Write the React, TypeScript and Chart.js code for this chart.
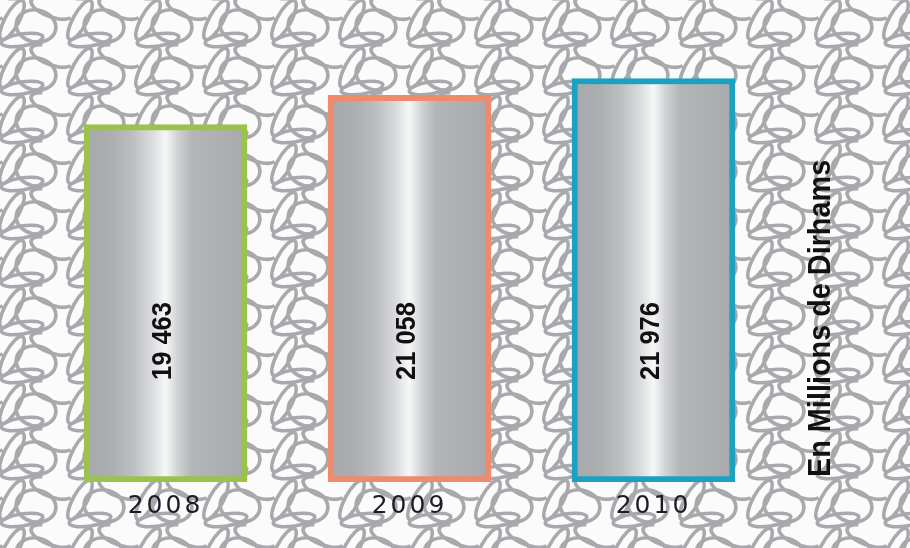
import React, { useEffect, useRef } from "react";
import { Chart, registerables } from "chart.js";

Chart.register(...registerables);

const categories = ["2008", "2009", "2010"];
const values = [19463, 21058, 21976];
const valueLabels = ["19 463", "21 058", "21 976"];
const borderColors = ["#9bc24a", "#ef8a6c", "#1ba2c3"];
const unitLabel = "En Millions de Dirhams";
const yMax = 26250;

const BAR_W = 163;

function metalGradient(ctx: CanvasRenderingContext2D, cx: number) {
  const g = ctx.createLinearGradient(cx - BAR_W / 2, 0, cx + BAR_W / 2, 0);
  g.addColorStop(0, "#a7a8ac");
  g.addColorStop(0.16, "#acadb1");
  g.addColorStop(0.3, "#bdbec1");
  g.addColorStop(0.42, "#dbdcde");
  g.addColorStop(0.5, "#f6f7f7");
  g.addColorStop(0.57, "#d3d4d6");
  g.addColorStop(0.66, "#b4b5b9");
  g.addColorStop(1, "#a8a9ad");
  return g;
}

const decoPlugin = {
  id: "deco",
  beforeDraw(chart: any) {
    const { ctx, width, height } = chart;
    ctx.save();
    ctx.fillStyle = "#fbfbfb";
    ctx.fillRect(0, 0, width, height);
    ctx.strokeStyle = "#a8a9ac";
    ctx.lineWidth = 3.6;
    const tw = 68;
    const th = 48;
    for (let ty = -th; ty < height + th; ty += th) {
      for (let tx = -tw; tx < width + tw; tx += tw) {
        ctx.beginPath();
        ctx.ellipse(tx + 36, ty + 26, 20, 16, 0.2, 0, Math.PI * 2);
        ctx.stroke();
        ctx.beginPath();
        ctx.ellipse(tx + 12, ty + 20, 7, 22, 0.5, 0, Math.PI * 2);
        ctx.stroke();
        ctx.beginPath();
        ctx.ellipse(tx + 22, ty + 40, 21, 6, -0.15, 0, Math.PI * 2);
        ctx.stroke();
        ctx.beginPath();
        ctx.ellipse(tx + 52, ty + 8, 22, 9, 0.35, Math.PI * 0.1, Math.PI * 1.3);
        ctx.stroke();
      }
    }
    ctx.restore();
    ctx.letterSpacing = "3px";
  },
  beforeDatasetsDraw(chart: any) {
    chart.ctx.letterSpacing = "0px";
  },
  afterDatasetsDraw(chart: any) {
    const { ctx, chartArea } = chart;
    const meta = chart.getDatasetMeta(0);
    ctx.save();
    ctx.fillStyle = "#111111";
    ctx.font = 'bold 28px "Liberation Sans", Arial, sans-serif';
    ctx.textAlign = "center";
    ctx.textBaseline = "middle";
    meta.data.forEach((bar: any, i: number) => {
      ctx.save();
      ctx.translate(bar.x - 2, chartArea.bottom - 141);
      ctx.rotate(-Math.PI / 2);
      ctx.scale(0.91, 1);
      ctx.fillText(valueLabels[i], 0, 0);
      ctx.restore();
    });
    ctx.font = 'bold 31px "Liberation Sans", Arial, sans-serif';
    ctx.textAlign = "left";
    ctx.save();
    ctx.translate(chartArea.right + 46, chartArea.bottom - 5);
    ctx.rotate(-Math.PI / 2);
    ctx.scale(0.93, 1);
    ctx.fillText(unitLabel, 0, 0);
    ctx.restore();
    ctx.restore();
  },
};

export default function App() {
  const ref = useRef<HTMLCanvasElement | null>(null);
  useEffect(() => {
    if (!ref.current) return;
    const chart = new Chart(ref.current, {
      type: "bar",
      data: {
        labels: categories,
        datasets: [
          {
            data: values,
            barThickness: BAR_W,
            borderWidth: 6,
            borderSkipped: false,
            borderColor: borderColors,
            backgroundColor: (c: any) => {
              const ch = c.chart;
              const xs = ch.scales && ch.scales.x;
              if (!xs || !ch.chartArea) return "#b0b1b5";
              return metalGradient(ch.ctx, xs.getPixelForValue(c.dataIndex));
            },
          },
        ],
      },
      options: {
        animation: false,
        responsive: true,
        maintainAspectRatio: false,
        layout: { padding: { left: 43.5, right: 134.5, top: 0, bottom: 18 } },
        plugins: { legend: { display: false }, tooltip: { enabled: false } },
        scales: {
          x: {
            grid: { display: false, drawTicks: false },
            border: { display: false },
            ticks: {
              padding: 9,
              color: "#1c1c26",
              font: { family: '"DejaVu Sans", sans-serif', size: 25 },
            },
          },
          y: { display: false, min: 0, max: yMax },
        },
      },
      plugins: [decoPlugin],
    });
    return () => chart.destroy();
  }, []);
  return (
    <div style={{ position: "fixed", left: 0, top: 0, width: 910, height: 548 }}>
      <canvas ref={ref} />
    </div>
  );
}
